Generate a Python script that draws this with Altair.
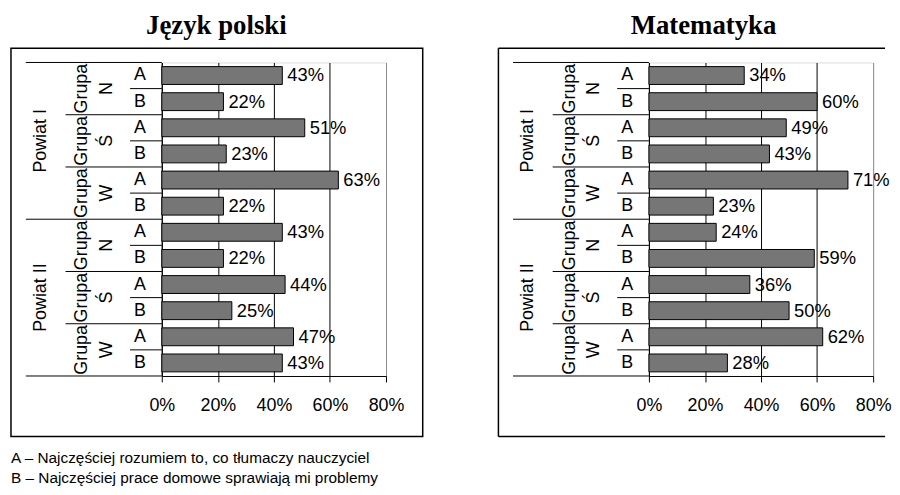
import altair as alt
import pandas as pd

titles = ["Język polski", "Matematyka"]
powiaty = ["Powiat I", "Powiat II"]
grupy = ["N", "Ś", "W"]
grupa_word = "Grupa"
odpowiedzi = ["A", "B"]
polski = [43, 22, 51, 23, 63, 22, 43, 22, 44, 25, 47, 43]
matematyka = [34, 60, 49, 43, 71, 23, 24, 59, 36, 50, 62, 28]
x_ticks = [0, 0.2, 0.4, 0.6, 0.8]
legend_lines = [
    "A – Najczęściej rozumiem to, co tłumaczy nauczyciel",
    "B – Najczęściej prace domowe sprawiają mi problemy",
]

FONT = "Liberation Sans"
BAR_FILL = "#767676"
W, H = 226, 316


def build_rows(values):
    recs = []
    i = 0
    for p in powiaty:
        for gi, g in enumerate(grupy):
            for o in odpowiedzi:
                if gi == 0 and o == "A":
                    level = "powiat"
                elif o == "A":
                    level = "grupa"
                else:
                    level = "ab"
                recs.append({
                    "row": f"{p}|{g}|{o}",
                    "powiat": p,
                    "grupa": g,
                    "grupa_word": grupa_word,
                    "odp": o,
                    "val": values[i] / 100,
                    "level": level,
                    "last": i == 11,
                })
                i += 1
    return pd.DataFrame(recs)


def panel(title, values, first):
    df = build_rows(values)
    order = list(df["row"])
    yscale = alt.Scale(domain=order, paddingInner=0, paddingOuter=0)
    Y = lambda bp=0.5: alt.Y("row:N", sort=order, scale=yscale, bandPosition=bp,
                             axis=alt.Axis(labels=False, ticks=False, title=None,
                                           domainColor="black", grid=False))
    base = alt.Chart(df)

    bars = base.mark_bar(height=18, fill=BAR_FILL, stroke="black", strokeWidth=1).encode(
        x=alt.X("val:Q", scale=alt.Scale(domain=[0, 0.8], nice=False),
                axis=alt.Axis(values=x_ticks, format=".0%", title=None,
                              labelFont=FONT, labelFontSize=18, labelColor="black",
                              labelFlush=False, labelOverlap=False,
                              labelPadding=15, tickSize=6, tickColor="black",
                              domainColor="black", grid=True,
                              gridColor={"condition": {"test": "datum.value >= 0.79", "value": "#8c8c8c"},
                                         "value": "black"},
                              gridWidth=1)),
        y=Y(),
    )
    vlabels = base.mark_text(align="left", baseline="middle", dx=5, font=FONT,
                             fontSize=18.5, color="black").encode(
        x="val:Q", y=Y(), text=alt.Text("val:Q", format=".0%"))
    ab = base.mark_text(align="center", baseline="middle", font=FONT, fontSize=18,
                        color="black").encode(x=alt.value(-22), y=Y(), text="odp:N")
    grp = base.transform_filter("datum.odp == 'A'")
    gletter = grp.mark_text(align="center", baseline="middle", angle=270, font=FONT,
                            fontSize=18, color="black").encode(
        x=alt.value(-55), y=Y(1), text="grupa:N")
    gword = grp.mark_text(align="center", baseline="middle", angle=270, font=FONT,
                          fontSize=18, color="black").encode(
        x=alt.value(-80), y=Y(1), text="grupa_word:N")
    pw = base.transform_filter("datum.grupa == 'Ś' && datum.odp == 'A'").mark_text(
        align="center", baseline="middle", angle=270, font=FONT, fontSize=18,
        color="black").encode(x=alt.value(-122), y=Y(1), text="powiat:N")

    r_pow = base.transform_filter("datum.level == 'powiat'").mark_rule(
        color="black", strokeWidth=1).encode(x=alt.value(-137), x2=alt.value(0), y=Y(0))
    r_last = base.transform_filter("datum.last").mark_rule(
        color="black", strokeWidth=1).encode(x=alt.value(-137), x2=alt.value(0), y=Y(1))
    r_grp = base.transform_filter("datum.level == 'grupa'").mark_rule(
        color="black", strokeWidth=1).encode(x=alt.value(-97), x2=alt.value(0), y=Y(0))
    r_ab = base.transform_filter("datum.level == 'ab'").mark_rule(
        color="black", strokeWidth=1).encode(x=alt.value(-32), x2=alt.value(0), y=Y(0))

    tdf = pd.DataFrame({"title": [title]})
    if first:
        box = [alt.Chart(tdf).mark_rect(fill="transparent", stroke="black", strokeWidth=1.5).encode(
            x=alt.value(-152), x2=alt.value(263), y=alt.value(-14.3), y2=alt.value(377))]
    else:
        bl = alt.Chart(tdf).mark_rule(color="black", strokeWidth=1.5)
        box = [
            bl.encode(x=alt.value(-151.7), x2=alt.value(238), y=alt.value(-14.3)),
            bl.encode(x=alt.value(-151.7), x2=alt.value(238), y=alt.value(377)),
            bl.encode(x=alt.value(-151.7), y=alt.value(-14.3), y2=alt.value(377)),
        ]
    ttl = alt.Chart(tdf).mark_text(align="center", baseline="alphabetic",
                                   font="Liberation Serif", fontWeight="bold",
                                   fontSize=27, color="black").encode(
        x=alt.value(55), y=alt.value(-29), text="title:N")

    layers = box + [ttl, bars, vlabels, ab, gletter, gword, pw, r_pow, r_last, r_grp, r_ab]
    if first:
        ldf = pd.DataFrame({"txt": ["\n".join(legend_lines)]})
        leg = alt.Chart(ldf).mark_text(align="left", baseline="alphabetic", font=FONT,
                                       fontSize=15.5, color="black", lineBreak="\n",
                                       lineHeight=20).encode(
            x=alt.value(-152), y=alt.value(404), text="txt:N")
        layers.append(leg)
    return alt.layer(*layers).properties(width=W, height=H)


chart = alt.hconcat(
    panel(titles[0], polski, True),
    panel(titles[1], matematyka, False),
    spacing=265,
    bounds="flush",
    padding={"left": 1, "top": 1, "right": 0, "bottom": 0},
).configure_view(stroke="#8c8c8c", strokeWidth=1).configure(background="white")

chart.save("out.html", embed_options={"renderer": "svg", "actions": False})
